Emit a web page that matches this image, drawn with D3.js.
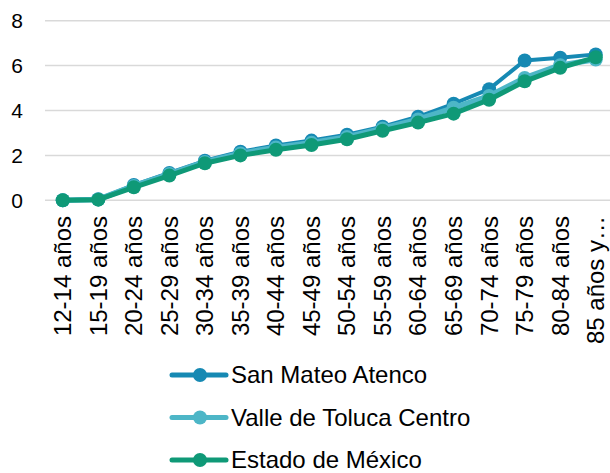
<!DOCTYPE html>
<html>
<head>
<meta charset="utf-8">
<script src="https://cdn.jsdelivr.net/npm/d3@7"></script>
<style>
  html, body { margin: 0; padding: 0; background: #fff; }
  svg { display: block; font-family: "Liberation Sans", Arial, sans-serif; }
</style>
</head>
<body>
<svg id="chart" width="610" height="473"></svg>
<script>
// Age groups along the x axis
const categories = ["12-14 años", "15-19 años", "20-24 años", "25-29 años", "30-34 años",
  "35-39 años", "40-44 años", "45-49 años", "50-54 años", "55-59 años", "60-64 años",
  "65-69 años", "70-74 años", "75-79 años", "80-84 años", "85 años y…"];

const seriesNames = ["San Mateo Atenco", "Valle de Toluca Centro", "Estado de México"];

const sanMateoAtenco = [0, 0.05, 0.68, 1.22, 1.76, 2.16, 2.44, 2.66, 2.92, 3.28, 3.72, 4.3, 4.95, 6.23, 6.35, 6.5];
const valleTolucaCentro = [0, 0.04, 0.64, 1.17, 1.71, 2.09, 2.35, 2.56, 2.82, 3.2, 3.6, 4.12, 4.65, 5.45, 6.02, 6.27];
const estadoMexico = [0, 0.03, 0.58, 1.1, 1.65, 2.0, 2.25, 2.46, 2.72, 3.1, 3.46, 3.86, 4.48, 5.3, 5.9, 6.37];

const yTicks = [0, 2, 4, 6, 8];

const colors = ["#1689b3", "#4db6c7", "#0f9977"];
const widths = [4, 5.5, 5];
const values = [sanMateoAtenco, valleTolucaCentro, estadoMexico];

const svg = d3.select("#chart");

const x = d3.scaleBand().domain(categories).range([45, 613.5]).padding(0);
const y = d3.scaleLinear().domain([0, 8]).range([200.3, 20.7]);

// horizontal gridlines + y labels
const yAxis = d3.axisLeft(y).tickValues(yTicks).tickSize(0).tickPadding(0);
const gy = svg.append("g").attr("transform", "translate(23,0)").call(yAxis);
gy.select(".domain").remove();
gy.selectAll("text").attr("font-size", 21).attr("fill", "#000")
  .attr("font-family", "Liberation Sans, Arial, sans-serif");

svg.append("g").selectAll("line").data(yTicks).join("line")
  .attr("x1", 45).attr("x2", 610)
  .attr("y1", d => y(d)).attr("y2", d => y(d))
  .attr("stroke", "#d9d9d9").attr("stroke-width", 1.5);

// x axis labels, rotated
const xAxis = d3.axisBottom(x).tickSize(0).tickPadding(0);
const gx = svg.append("g").attr("transform", "translate(0,216)").call(xAxis);
gx.select(".domain").remove();
gx.selectAll("text")
  .attr("font-size", 24).attr("fill", "#000")
  .attr("font-family", "Liberation Sans, Arial, sans-serif")
  .attr("text-anchor", "end")
  .attr("transform", "rotate(-90)")
  .attr("x", 0).attr("y", 0).attr("dy", "0.35em");

const cx = (d, i) => x(categories[i]) + x.bandwidth() / 2;
const line = d3.line().x(cx).y(d => y(d));

values.forEach((vals, s) => {
  const g = svg.append("g");
  g.append("path").datum(vals)
    .attr("d", line)
    .attr("fill", "none")
    .attr("stroke", colors[s])
    .attr("stroke-width", widths[s])
    .attr("stroke-linejoin", "round");
  g.selectAll("circle").data(vals).join("circle")
    .attr("cx", cx).attr("cy", d => y(d))
    .attr("r", 7).attr("fill", colors[s]);
});

// legend
const legendY = [375, 417.5, 460];
const lg = svg.append("g");
seriesNames.forEach((name, s) => {
  const row = lg.append("g").attr("transform", `translate(0,${legendY[s]})`);
  row.append("line").attr("x1", 172).attr("x2", 226).attr("y1", 0).attr("y2", 0)
    .attr("stroke", colors[s]).attr("stroke-width", 5).attr("stroke-linecap", "round");
  row.append("circle").attr("cx", 200).attr("cy", 0).attr("r", 7).attr("fill", colors[s]);
  row.append("text").attr("x", 231).attr("y", 0).attr("dy", "0.35em")
    .attr("font-size", 24).attr("fill", "#000").text(name);
});
</script>
</body>
</html>
